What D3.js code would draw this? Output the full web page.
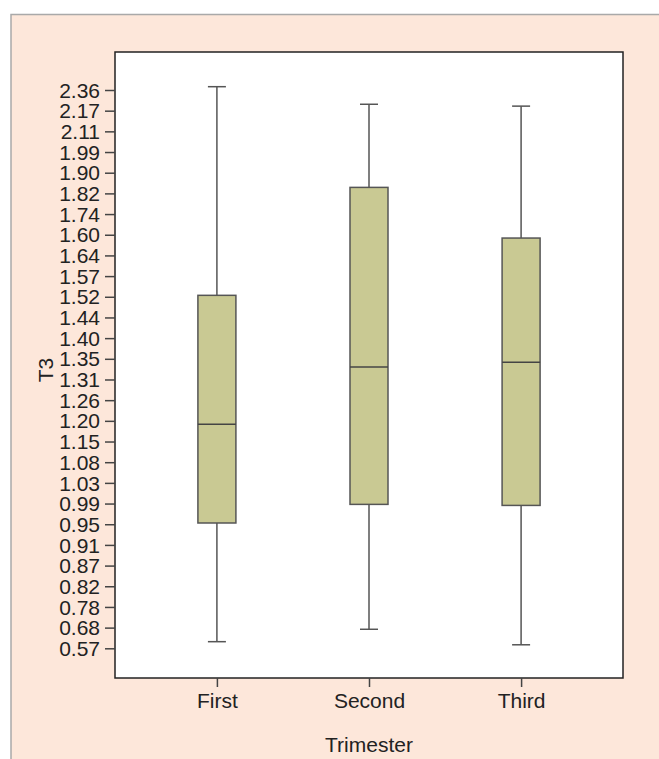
<!DOCTYPE html>
<html>
<head>
<meta charset="utf-8">
<script src="https://cdn.jsdelivr.net/npm/d3@7"></script>
<style>
  html, body { margin: 0; padding: 0; background: #fff; }
  svg { display: block; font-family: "Liberation Sans", Arial, sans-serif; }
</style>
</head>
<body>
<div id="chart"></div>
<script>
// Y axis labels as printed (bottom to top). The axis is spaced evenly, one step per label.
const tickLabels = ["0.57", "0.68", "0.78", "0.82", "0.87", "0.91", "0.95", "0.99", "1.03", "1.08",
                    "1.15", "1.20", "1.26", "1.31", "1.35", "1.40", "1.44", "1.52", "1.57", "1.64",
                    "1.60", "1.74", "1.82", "1.90", "1.99", "2.11", "2.17", "2.36"];

const trimesters = ["First", "Second", "Third"];

// Box statistics, in label steps from the lowest label (0 = "0.57")
const whiskerLow  = [0.32, 0.92, 0.17];
const q1          = [6.06, 6.96, 6.91];
const median      = [10.83, 13.60, 13.83];
const q3          = [17.07, 22.29, 19.84];
const whiskerHigh = [27.16, 26.31, 26.22];

const width = 659;
const height = 759;
const margin = { top: 52, right: 36, bottom: 81, left: 115 };
const fontSize = '21px';
const textColor = '#222';

const svg = d3.select('#chart')
    .append('svg')
    .attr('width', width)
    .attr('height', height);

// peach background with grey edge
svg.append('rect')
    .attr('x', 11).attr('y', 14.5)
    .attr('width', width).attr('height', height)
    .style('fill', '#fde7da')
    .style('stroke', '#a9a9a9')
    .style('stroke-width', 1.5);

const plotW = width - margin.left - margin.right;
const plotH = height - margin.top - margin.bottom;

const g = svg.append('g')
    .attr('transform', `translate(${margin.left},${margin.top})`);

g.append('rect')
    .attr('width', plotW)
    .attr('height', plotH)
    .style('fill', '#fff');

const x = d3.scalePoint()
    .domain(trimesters)
    .range([0, plotW])
    .padding(0.67);

// label 0 sits at y=648.3, top label at y=90 (page coords)
const y = d3.scaleLinear()
    .domain([0, tickLabels.length - 1])
    .range([648.3 - margin.top, 90 - margin.top]);

const boxW = 38;
const capW = 18;

const boxes = trimesters.map((t, i) => ({
    name: t, lo: whiskerLow[i], q1: q1[i], med: median[i], q3: q3[i], hi: whiskerHigh[i]
}));

const bg = g.selectAll('.box')
    .data(boxes)
    .join('g')
    .attr('class', 'box')
    .attr('transform', d => `translate(${x(d.name)},0)`);

bg.append('line')
    .attr('y1', d => y(d.hi)).attr('y2', d => y(d.q3))
    .style('stroke', '#555').style('stroke-width', 1.5);
bg.append('line')
    .attr('y1', d => y(d.q1)).attr('y2', d => y(d.lo))
    .style('stroke', '#555').style('stroke-width', 1.5);
bg.append('line')
    .attr('x1', -capW / 2).attr('x2', capW / 2)
    .attr('y1', d => y(d.hi)).attr('y2', d => y(d.hi))
    .style('stroke', '#555').style('stroke-width', 1.5);
bg.append('line')
    .attr('x1', -capW / 2).attr('x2', capW / 2)
    .attr('y1', d => y(d.lo)).attr('y2', d => y(d.lo))
    .style('stroke', '#555').style('stroke-width', 1.5);

bg.append('rect')
    .attr('x', -boxW / 2)
    .attr('width', boxW)
    .attr('y', d => y(d.q3))
    .attr('height', d => y(d.q1) - y(d.q3))
    .style('fill', '#c9c993')
    .style('stroke', '#555')
    .style('stroke-width', 1.5);

bg.append('line')
    .attr('x1', -boxW / 2).attr('x2', boxW / 2)
    .attr('y1', d => y(d.med)).attr('y2', d => y(d.med))
    .style('stroke', '#444').style('stroke-width', 1.5);

// plot border
g.append('rect')
    .attr('width', plotW)
    .attr('height', plotH)
    .style('fill', 'none')
    .style('stroke', '#222')
    .style('stroke-width', 1.5);

// y axis
const yAxis = g.append('g')
    .call(d3.axisLeft(y)
        .tickValues(d3.range(tickLabels.length))
        .tickFormat(i => tickLabels[i])
        .tickSize(10)
        .tickPadding(5));
yAxis.select('.domain').remove();
yAxis.selectAll('line').style('stroke', '#444').style('stroke-width', 1.5);
yAxis.selectAll('text')
    .attr('dy', '0.34em')
    .style('font-size', fontSize)
    .style('font-family', '"Liberation Sans", Arial, sans-serif')
    .style('fill', textColor);

// x axis
const xAxis = g.append('g')
    .attr('transform', `translate(0,${plotH})`)
    .call(d3.axisBottom(x).tickSize(9).tickPadding(6));
xAxis.select('.domain').remove();
xAxis.selectAll('line').style('stroke', '#444').style('stroke-width', 1.5);
xAxis.selectAll('text')
    .style('font-size', fontSize)
    .style('font-family', '"Liberation Sans", Arial, sans-serif')
    .style('fill', textColor);

// axis titles
svg.append('text')
    .attr('x', margin.left + plotW / 2)
    .attr('y', 752)
    .attr('text-anchor', 'middle')
    .style('font-size', fontSize)
    .style('fill', textColor)
    .text('Trimester');

svg.append('text')
    .attr('transform', 'translate(53,370) rotate(-90)')
    .attr('text-anchor', 'middle')
    .style('font-size', fontSize)
    .style('fill', textColor)
    .text('T3');
</script>
</body>
</html>
